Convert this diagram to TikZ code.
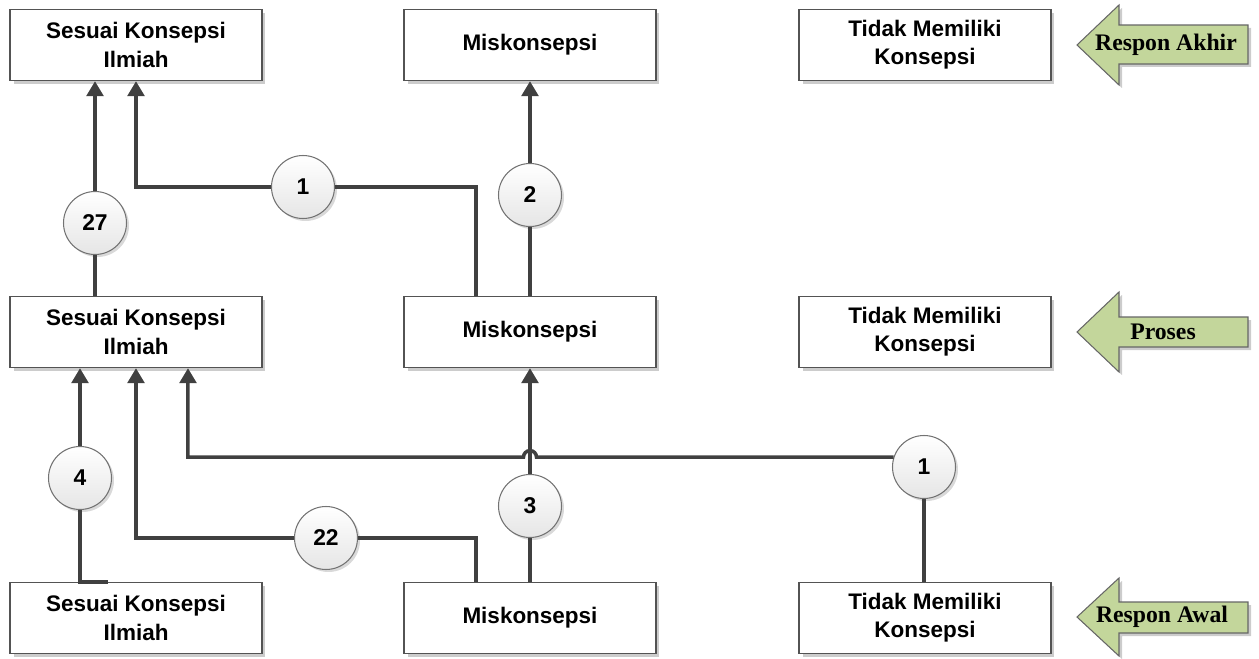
\documentclass[tikz,border=0pt]{standalone}
\usepackage{fontspec}
\setmainfont{Liberation Sans}
\newfontfamily\arrowfont{Liberation Serif}
\usetikzlibrary{arrows.meta, calc, shadows}

\definecolor{linegray}{HTML}{404040}
\definecolor{respgreen}{HTML}{C3D69B}

\tikzset{
  konsep/.style={draw=linegray!90, fill=white, line width=0.8pt,
    minimum width=5.04cm, minimum height=1.42cm, align=center,
    font=\bfseries\fontsize{12.8}{16}\selectfont,
    drop shadow={shadow xshift=0.07cm, shadow yshift=-0.07cm, fill=black!20, opacity=1}},
  jumlah/.style={circle, draw=black!55, line width=0.6pt, top color=white, bottom color=black!10,
    minimum size=1.26cm, inner sep=0pt, font=\bfseries\fontsize{13}{15}\selectfont,
    drop shadow={shadow xshift=0.05cm, shadow yshift=-0.05cm, fill=black!15, opacity=1}},
  alur/.style={draw=linegray, line width=2pt},
  panah/.style={alur, -{Triangle[length=8.5pt, width=9.5pt]}},
  tahap/.style={fill=respgreen, draw=black!60, line width=0.6pt, line join=miter,
    drop shadow={shadow xshift=0.06cm, shadow yshift=-0.06cm, fill=black!20, opacity=1}},
  tahaplabel/.style={font=\arrowfont\bfseries\fontsize{13.5}{15}\selectfont}
}

\begin{document}
\begin{tikzpicture}[x=0.02cm, y=-0.02cm]
\useasboundingbox (0,0) rectangle (1259,659);

% Respon akhir
\node[konsep] (sa3) at (136,45) {Sesuai Konsepsi\\Ilmiah};
\node[konsep] (mk3) at (530,45) {Miskonsepsi};
\node[konsep] (tm3) at (925,45) {Tidak Memiliki\\Konsepsi};

% Proses
\node[konsep] (sa2) at (136,332) {Sesuai Konsepsi\\Ilmiah};
\node[konsep] (mk2) at (530,332) {Miskonsepsi};
\node[konsep] (tm2) at (925,332) {Tidak Memiliki\\Konsepsi};

% Respon awal
\node[konsep] (sa1) at (136,618) {Sesuai Konsepsi\\Ilmiah};
\node[konsep] (mk1) at (530,618) {Miskonsepsi};
\node[konsep] (tm1) at (925,618) {Tidak Memiliki\\Konsepsi};

% Jumlah siswa
\node[jumlah] (n27) at (95,223) {27};
\node[jumlah] (n1a) at (303,187) {1};
\node[jumlah] (n2) at (530,195) {2};
\node[jumlah] (n4) at (80,478) {4};
\node[jumlah] (n22) at (326,538) {22};
\node[jumlah] (n3) at (530,506) {3};
\node[jumlah] (n1b) at (924,467) {1};

% Proses -> respon akhir
\draw[alur] (sa2.north -| n27) -- (n27);
\draw[panah] (n27) -- (sa3.south -| n27);
\coordinate (mk2a) at ([xshift=-1.08cm]mk2.north);
\draw[alur] (mk2a) |- (n1a);
\draw[panah] (n1a) -| (sa3.south);
\draw[alur] (mk2.north) -- (n2);
\draw[panah] (n2) -- (mk3.south);

% Respon awal -> proses
\coordinate (sa1a) at ([xshift=-0.56cm]sa1.north);
\draw[alur] (sa1a) -- (sa1.north -| n4) -- (n4);
\draw[panah] (n4) -- (sa2.south -| n4);
\coordinate (mk1a) at ([xshift=-1.08cm]mk1.north);
\draw[alur] (mk1a) |- (n22);
\draw[panah] (n22) -| (sa2.south);
\draw[alur] (mk1.north) -- (n3);
\draw[panah] (n3) -- (mk2.south);
\draw[alur] (tm1.north -| n1b) -- (n1b);
\coordinate (lompat) at (mk2.south |- n1b.162);
\draw[panah] (n1b.162) -- ([xshift=0.13cm]lompat) arc[start angle=0, end angle=180, radius=0.13cm]
  -| ([xshift=1.04cm]sa2.south);

% Tahap
\filldraw[tahap] (1077,45) -- (1119,5) -- (1119,25) -- (1248,25) -- (1248,64) -- (1119,64) -- (1119,85) -- cycle;
\node[tahaplabel] (akhir) at (1166,45) {Respon Akhir};
\filldraw[tahap] (1077,332) -- (1119,292) -- (1119,317) -- (1248,317) -- (1248,347) -- (1119,347) -- (1119,372) -- cycle;
\node[tahaplabel] (proses) at (1163,332) {Proses};
\filldraw[tahap] (1077,617) -- (1119,578) -- (1119,602) -- (1248,602) -- (1248,633) -- (1119,633) -- (1119,656) -- cycle;
\node[tahaplabel] (awal) at (1162,617) {Respon Awal};

\end{tikzpicture}
\end{document}
